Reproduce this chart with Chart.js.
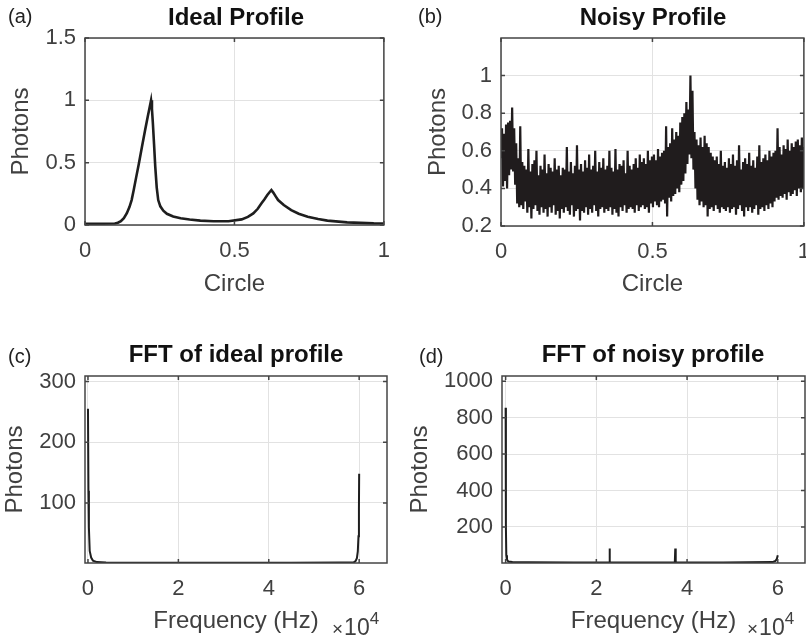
<!DOCTYPE html>
<html>
<head>
<meta charset="utf-8">
<script src="https://cdn.jsdelivr.net/npm/chart.js@4.4.1/dist/chart.umd.min.js"></script>
<style>
body { margin: 0; background: #fff; }
#wrap { position: relative; width: 806px; height: 637px; overflow: hidden; font-family: "Liberation Sans", Arial, sans-serif; }
canvas { position: absolute; }
.t { position: absolute; font-weight: bold; font-size: 24px; line-height: 1; color: #111; white-space: nowrap; transform: translateX(-50%); }
.lab { position: absolute; font-size: 20px; line-height: 1; color: #222; }
.exp { position: absolute; font-size: 23px; line-height: 1; color: #404040; white-space: nowrap; }
.exp .x { font-size: 19px; margin-right: 1px; }
.exp sup { font-size: 17px; vertical-align: baseline; position: relative; top: -11px; }
</style>
</head>
<body>
<div id="wrap">
  <canvas id="ca" width="403" height="310" style="left:0;top:0"></canvas>
  <canvas id="cb" width="420" height="310" style="left:403px;top:0"></canvas>
  <canvas id="cc" width="403" height="327" style="left:0;top:310px"></canvas>
  <canvas id="cd" width="420" height="327" style="left:403px;top:310px"></canvas>

  <div class="lab" style="left:8px;top:6px">(a)</div>
  <div class="lab" style="left:418px;top:6px">(b)</div>
  <div class="lab" style="left:8px;top:346px">(c)</div>
  <div class="lab" style="left:419px;top:346px">(d)</div>

  <div class="t" style="left:236px;top:5px">Ideal Profile</div>
  <div class="t" style="left:653px;top:5px">Noisy Profile</div>
  <div class="t" style="left:236px;top:342px">FFT of ideal profile</div>
  <div class="t" style="left:653px;top:342px">FFT of noisy profile</div>

  <div class="exp" style="left:332px;top:616px"><span class="x">×</span>10<sup>4</sup></div>
  <div class="exp" style="left:747px;top:616px"><span class="x">×</span>10<sup>4</sup></div>
</div>
<script>
// tick positions
const circleTicks = [0, 0.5, 1];
const idealTicksY = [0, 0.5, 1, 1.5];
const noisyTicksY = [0.2, 0.4, 0.6, 0.8, 1];
const freqTicks = [0, 20000, 40000, 60000];
const fftIdealTicksY = [100, 200, 300];
const fftNoisyTicksY = [200, 400, 600, 800, 1000];

// (a) ideal profile
const idealX = [0, 0.05, 0.1, 0.11, 0.12, 0.13, 0.14, 0.149, 0.156, 0.163, 0.171, 0.18, 0.19, 0.201, 0.21, 0.216, 0.221, 0.224, 0.227, 0.231, 0.235, 0.24, 0.245, 0.252, 0.262, 0.274, 0.295, 0.32, 0.35, 0.386, 0.43, 0.48, 0.524, 0.545, 0.563, 0.578, 0.59, 0.6, 0.61, 0.618, 0.6236, 0.63, 0.638, 0.646, 0.665, 0.69, 0.715, 0.745, 0.78, 0.811, 0.877, 0.966, 1.0];
const idealY = [0.01, 0.01, 0.012, 0.018, 0.03, 0.055, 0.095, 0.146, 0.2, 0.28, 0.38, 0.49, 0.62, 0.76, 0.87, 0.94, 1.0, 0.93, 0.82, 0.65, 0.47, 0.3, 0.2, 0.15, 0.115, 0.09, 0.068, 0.054, 0.044, 0.035, 0.03, 0.03, 0.045, 0.065, 0.093, 0.13, 0.173, 0.205, 0.24, 0.265, 0.28, 0.26, 0.23, 0.2, 0.16, 0.12, 0.09, 0.067, 0.048, 0.035, 0.021, 0.013, 0.012];

// (b) noisy profile, evenly sampled over 0..1
const noisyY = [
  0.56, 0.72, 0.41, 0.69, 0.44, 0.74, 0.40, 0.75, 0.47, 0.76,
  0.50, 0.83, 0.49, 0.72, 0.42, 0.64, 0.32, 0.56, 0.30, 0.73,
  0.31, 0.54, 0.29, 0.52, 0.33, 0.50, 0.27, 0.61, 0.30, 0.49,
  0.24, 0.53, 0.29, 0.55, 0.31, 0.60, 0.28, 0.47, 0.26, 0.52,
  0.30, 0.50, 0.27, 0.58, 0.29, 0.48, 0.25, 0.53, 0.30, 0.51,
  0.27, 0.49, 0.31, 0.56, 0.26, 0.50, 0.28, 0.52, 0.24, 0.47,
  0.29, 0.51, 0.27, 0.50, 0.30, 0.62, 0.28, 0.49, 0.26, 0.54,
  0.31, 0.48, 0.25, 0.52, 0.28, 0.63, 0.29, 0.50, 0.23, 0.53,
  0.28, 0.49, 0.27, 0.55, 0.30, 0.51, 0.26, 0.58, 0.29, 0.50,
  0.27, 0.52, 0.31, 0.60, 0.28, 0.49, 0.25, 0.54, 0.29, 0.51,
  0.30, 0.56, 0.27, 0.50, 0.29, 0.52, 0.28, 0.60, 0.30, 0.51,
  0.26, 0.49, 0.29, 0.61, 0.27, 0.50, 0.25, 0.53, 0.30, 0.52,
  0.28, 0.55, 0.31, 0.48, 0.27, 0.60, 0.29, 0.52, 0.30, 0.50,
  0.29, 0.53, 0.27, 0.56, 0.31, 0.51, 0.28, 0.58, 0.30, 0.54,
  0.31, 0.56, 0.29, 0.53, 0.30, 0.60, 0.27, 0.55, 0.32, 0.57,
  0.30, 0.58, 0.33, 0.55, 0.31, 0.61, 0.30, 0.57, 0.33, 0.59,
  0.34, 0.60, 0.32, 0.73, 0.25, 0.62, 0.35, 0.64, 0.33, 0.72,
  0.36, 0.66, 0.37, 0.70, 0.40, 0.68, 0.38, 0.75, 0.42, 0.78,
  0.44, 0.80, 0.48, 0.86, 0.53, 0.82, 0.58, 1.00, 0.56, 0.92,
  0.50, 0.70, 0.40, 0.66, 0.34, 0.63, 0.31, 0.67, 0.33, 0.62,
  0.30, 0.68, 0.31, 0.64, 0.25, 0.62, 0.29, 0.59, 0.30, 0.57,
  0.28, 0.55, 0.31, 0.57, 0.29, 0.53, 0.27, 0.60, 0.30, 0.52,
  0.29, 0.54, 0.28, 0.51, 0.30, 0.56, 0.27, 0.53, 0.29, 0.58,
  0.30, 0.52, 0.26, 0.55, 0.29, 0.63, 0.31, 0.50, 0.28, 0.54,
  0.25, 0.56, 0.30, 0.53, 0.28, 0.59, 0.30, 0.52, 0.27, 0.55,
  0.29, 0.51, 0.31, 0.57, 0.26, 0.63, 0.29, 0.54, 0.30, 0.56,
  0.28, 0.58, 0.31, 0.55, 0.29, 0.60, 0.32, 0.57, 0.30, 0.59,
  0.33, 0.60, 0.35, 0.72, 0.34, 0.62, 0.36, 0.58, 0.35, 0.63,
  0.37, 0.61, 0.34, 0.66, 0.38, 0.60, 0.36, 0.64, 0.37, 0.62,
  0.39, 0.65, 0.36, 0.66, 0.40, 0.63, 0.38, 0.67, 0.40, 0.62
];

// (c) FFT of ideal profile (Hz)
const fftIdealX = [0, 100, 200, 380, 700, 1100, 2000, 4000, 15000, 30000, 45000, 56000, 58800, 59200, 59500, 59700, 59850, 59950, 60000];
const fftIdealY = [255, 120, 60, 21, 10, 5, 2.5, 1.8, 1.5, 1.4, 1.5, 1.8, 2, 4, 9, 20, 45, 90, 148];

// (d) FFT of noisy profile (Hz)
const fftNoisyX = [0, 60, 150, 300, 600, 1500, 5000, 15000, 22800, 22900, 23000, 30000, 37300, 37400, 37500, 48000, 58800, 59500, 59800, 60000];
const fftNoisyY = [855, 200, 45, 20, 10, 7, 6, 5, 6, 81, 6, 5, 6, 81, 6, 5, 7, 14, 25, 44];

Chart.defaults.font.family = '"Liberation Sans", Arial, sans-serif';
Chart.defaults.color = '#404040';

const framePlugin = {
  id: 'frame',
  afterDraw(chart) {
    const { ctx, chartArea: a, scales } = chart;
    ctx.save();
    ctx.strokeStyle = '#444';
    ctx.lineWidth = 1.5;
    ctx.strokeRect(a.left, a.top, a.right - a.left, a.bottom - a.top);
    ctx.beginPath();
    scales.x.ticks.forEach(t => {
      const p = scales.x.getPixelForValue(t.value);
      ctx.moveTo(p, a.bottom); ctx.lineTo(p, a.bottom - 4);
      ctx.moveTo(p, a.top); ctx.lineTo(p, a.top + 4);
    });
    scales.y.ticks.forEach(t => {
      const p = scales.y.getPixelForValue(t.value);
      ctx.moveTo(a.left, p); ctx.lineTo(a.left + 4, p);
      ctx.moveTo(a.right, p); ctx.lineTo(a.right - 4, p);
    });
    ctx.stroke();
    ctx.restore();
  }
};

function toPoints(xs, ys) {
  return ys.map((y, i) => ({ x: xs[i], y: y }));
}

function makePanel(id, points, c) {
  const ctx = document.getElementById(id).getContext('2d');
  return new Chart(ctx, {
    type: 'line',
    data: {
      datasets: [{
        data: points,
        borderColor: c.lineColor || '#1e1e1e',
        borderWidth: c.lineWidth,
        pointRadius: 0,
        tension: 0,
        fill: false
      }]
    },
    options: {
      responsive: false,
      animation: false,
      devicePixelRatio: 1,
      layout: { padding: { top: c.padTop, right: c.padRight, left: 0, bottom: 0 } },
      plugins: { legend: { display: false }, tooltip: { enabled: false } },
      scales: {
        x: {
          type: 'linear',
          min: c.xMin, max: c.xMax,
          afterFit: s => { s.height = c.xHeight; },
          afterBuildTicks: s => { s.ticks = c.xTicks.map(v => ({ value: v })); },
          border: { display: false },
          grid: { color: '#e2e2e2', drawTicks: false },
          ticks: {
            maxRotation: 0, padding: 13,
            font: { size: 22 }, color: '#404040',
            callback: c.xFmt || (v => String(v))
          },
          title: { display: true, text: c.xTitle, font: { size: 24 }, color: '#404040', padding: { top: 0, bottom: c.xTitlePad } }
        },
        y: {
          min: c.yMin, max: c.yMax,
          afterFit: s => { s.width = c.yWidth; },
          afterBuildTicks: s => { s.ticks = c.yTicks.map(v => ({ value: v })); },
          border: { display: false },
          grid: { color: '#e2e2e2', drawTicks: false },
          ticks: { padding: 9, font: { size: 22 }, color: '#404040', callback: v => String(v) },
          title: { display: true, text: 'Photons', font: { size: 24 }, color: '#404040', padding: { top: c.yTitlePad, bottom: 0 } }
        }
      }
    },
    plugins: [framePlugin]
  });
}

const hzFmt = v => String(v / 10000);
const noisyX = noisyY.map((v, i) => i / (noisyY.length - 1));

makePanel('ca', toPoints(idealX, idealY), {
  xMin: 0, xMax: 1, xTicks: circleTicks, yMin: 0, yMax: 1.5, yTicks: idealTicksY,
  padTop: 38, padRight: 16, yWidth: 85, xHeight: 85,
  yTitlePad: 7, xTitle: 'Circle', xTitlePad: 11, lineWidth: 2.6
});
makePanel('cb', toPoints(noisyX, noisyY), {
  xMin: 0, xMax: 1, xTicks: circleTicks, yMin: 0.2, yMax: 1.2, yTicks: noisyTicksY,
  padTop: 38, padRight: 18, yWidth: 98, xHeight: 84,
  yTitlePad: 21, xTitle: 'Circle', xTitlePad: 11, lineWidth: 2.2, lineColor: '#201c1d'
});
makePanel('cc', toPoints(fftIdealX, fftIdealY), {
  xMin: -660, xMax: 66160, xTicks: freqTicks, yMin: 1, yMax: 309, yTicks: fftIdealTicksY,
  padTop: 66, padRight: 16, yWidth: 85, xHeight: 74,
  yTitlePad: 1, xTitle: 'Frequency (Hz)', xTitlePad: 1, lineWidth: 2, xFmt: hzFmt
});
makePanel('cd', toPoints(fftNoisyX, fftNoisyY), {
  xMin: -800, xMax: 66000, xTicks: freqTicks, yMin: 2, yMax: 1029, yTicks: fftNoisyTicksY,
  padTop: 66, padRight: 18, yWidth: 99, xHeight: 74,
  yTitlePad: 3, xTitle: 'Frequency (Hz)', xTitlePad: 1, lineWidth: 2, xFmt: hzFmt
});
</script>
</body>
</html>
